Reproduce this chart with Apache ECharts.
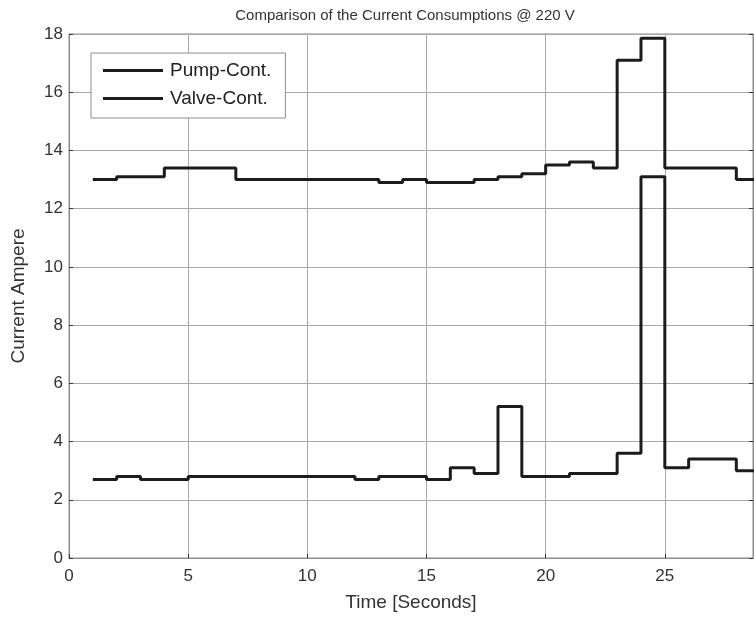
<!DOCTYPE html>
<html>
<head>
<meta charset="utf-8">
<script src="https://cdn.jsdelivr.net/npm/echarts@6/dist/echarts.min.js"></script>
<style>
  html, body { margin: 0; padding: 0; background: #fff; }
  #chart { width: 754px; height: 619px; }
</style>
</head>
<body>
<div id="chart"></div>
<script>
// time stamps in seconds (stairs, each value holds until the next second)
const times = [1, 2, 3, 4, 5, 6, 7, 8, 9, 10, 11, 12, 13, 14, 15, 16, 17, 18, 19, 20, 21, 22, 23, 24, 25, 26, 27, 28, 29];
const pumpCurrent = [13.0, 13.1, 13.1, 13.4, 13.4, 13.4, 13.0, 13.0, 13.0, 13.0, 13.0, 13.0, 12.9, 13.0, 12.9, 12.9, 13.0, 13.1, 13.2, 13.5, 13.6, 13.4, 17.1, 17.85, 13.4, 13.4, 13.4, 13.0, 13.0];
const valveCurrent = [2.7, 2.8, 2.7, 2.7, 2.8, 2.8, 2.8, 2.8, 2.8, 2.8, 2.8, 2.7, 2.8, 2.8, 2.7, 3.1, 2.9, 5.2, 2.8, 2.8, 2.9, 2.9, 3.6, 13.1, 3.1, 3.4, 3.4, 3.0, 3.0];
const seriesNames = ["Pump-Cont.", "Valve-Cont."];

const font = "'Liberation Sans', Arial, sans-serif";
const axisGrey = "#8c8c8c";

function pairs(ys) {
  return times.map((t, i) => [t, ys[i]]);
}

const chart = echarts.init(document.getElementById("chart"));

const option = {
  animation: false,
  backgroundColor: "#ffffff",
  title: {
    text: "Comparison of the Current Consumptions @ 220 V",
    left: 400,
    textAlign: "center",
    top: 3,
    textStyle: { fontFamily: font, fontSize: 15, fontWeight: "normal", color: "#333" },
  },
  legend: {
    data: seriesNames,
    orient: "vertical",
    left: 91,
    top: 53,
    padding: [8, 14, 10, 12],
    itemWidth: 60,
    itemHeight: 3,
    itemGap: 9,
    icon: "rect",
    backgroundColor: "#ffffff",
    borderColor: axisGrey,
    borderWidth: 1,
    textStyle: { fontFamily: font, fontSize: 19, color: "#222", padding: [0, 0, 0, 2] },
  },
  grid: {
    left: 69,
    right: 1,
    top: 34,
    bottom: 61,
    show: true,
    borderColor: axisGrey,
    borderWidth: 1,
  },
  xAxis: [
    {
      type: "value",
      min: 0,
      max: 28.7,
      interval: 5,
      name: "Time [Seconds]",
      nameLocation: "middle",
      nameGap: 35,
      nameTextStyle: { fontFamily: font, fontSize: 19, color: "#333" },
      axisLine: { show: true, onZero: false, lineStyle: { color: axisGrey } },
      axisTick: { show: true, inside: true, length: 4, lineStyle: { color: "#333" } },
      axisLabel: { showMaxLabel: false, margin: 10, fontFamily: font, fontSize: 17, color: "#333" },
      splitLine: { show: true, lineStyle: { color: "#a8a8a8", width: 1 } },
    },
  ],
  yAxis: [
    {
      type: "value",
      min: 0,
      max: 18,
      interval: 2,
      name: "Current Ampere",
      nameLocation: "middle",
      nameGap: 41,
      nameTextStyle: { fontFamily: font, fontSize: 19, color: "#333" },
      axisLine: { show: true, lineStyle: { color: axisGrey } },
      axisTick: { show: true, inside: true, length: 4, lineStyle: { color: "#333" } },
      axisLabel: { margin: 6, fontFamily: font, fontSize: 17, color: "#333" },
      splitLine: { show: true, lineStyle: { color: "#a8a8a8", width: 1 } },
    },
    {
      type: "value",
      min: 0,
      max: 18,
      interval: 2,
      position: "right",
      axisLine: { show: true, lineStyle: { color: axisGrey } },
      axisTick: { show: true, inside: true, length: 4, lineStyle: { color: "#333" } },
      axisLabel: { show: false },
      splitLine: { show: false },
    },
  ],
  series: [
    {
      name: seriesNames[0],
      type: "line",
      step: "end",
      data: pairs(pumpCurrent),
      showSymbol: false,
      clip: true,
      lineStyle: { color: "#1c1c1c", width: 3 },
      itemStyle: { color: "#1c1c1c" },
    },
    {
      name: seriesNames[1],
      type: "line",
      step: "end",
      data: pairs(valveCurrent),
      showSymbol: false,
      clip: true,
      lineStyle: { color: "#1c1c1c", width: 3 },
      itemStyle: { color: "#1c1c1c" },
    },
  ],
};

chart.setOption(option);
</script>
</body>
</html>
